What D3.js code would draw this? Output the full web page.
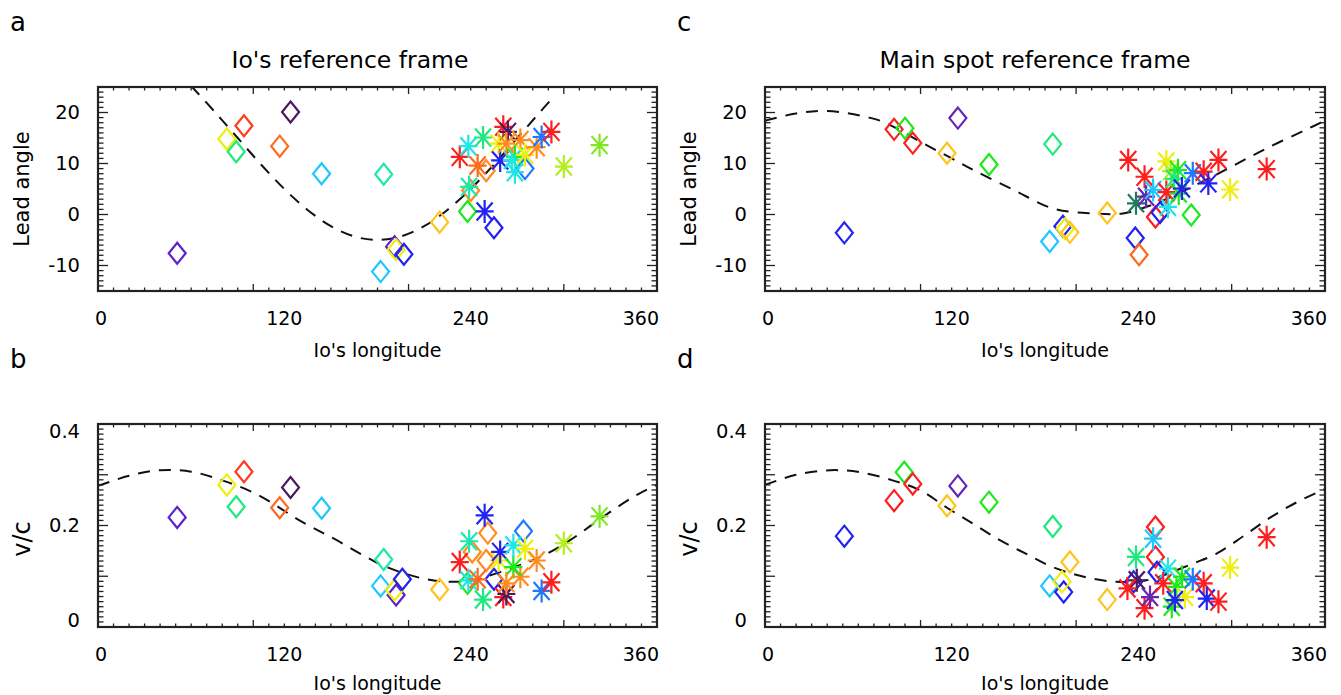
<!DOCTYPE html>
<html lang="en">
<head>
<meta charset="UTF-8">
<title>Io footprint lead angle and v/c</title>
<script src="https://d3js.org/d3.v7.min.js"></script>
<style>
  body { margin: 0; background: #fff; }
  svg { display: block; font-family: "DejaVu Sans", sans-serif; }
</style>
</head>
<body>
<svg width="1341" height="695"></svg>
<script>
// tick labels
const lonTicks = [0, 120, 240, 360];
const leadTicks = [-10, 0, 10, 20];
const vcTicks = [0, 0.2, 0.4];

// colour groups
const palette = {
  vio: "#5b22d2", dpu: "#4b1a62", pur: "#6a24b4", blu: "#2323f0", azu: "#1e78ff",
  sky: "#1ec8ff", cya: "#1ee6e6", aqu: "#1ee8b0", spr: "#1ee880", tea: "#1f7a5a",
  grn: "#1ee81e", chr: "#7ee81e", lim: "#b4ee1e", yel: "#eeee10", gol: "#ffc41e",
  ora: "#ff8c1e", ore: "#ff6a1e", rdo: "#ff3c1e", red: "#ff1e1e"
};

// panel a: Io's frame, lead angle  [longitude, lead, colour, symbol]
const ioLead = [
  [51, -7.6, "vio", "d"], [83, 14.8, "yel", "d"], [89, 12.3, "spr", "d"], [94, 17.4, "rdo", "d"],
  [117, 13.4, "ore", "d"], [124, 20.1, "dpu", "d"], [144, 8.0, "sky", "d"], [184, 7.9, "aqu", "d"],
  [182, -11.2, "sky", "d"], [191, -6.3, "vio", "d"], [192, -6.9, "yel", "d"], [197, -7.8, "blu", "d"],
  [220, -1.5, "gol", "d"], [238, 0.6, "grn", "d"], [255, -2.6, "blu", "d"], [240, 4.7, "ora", "d"],
  [250, 8.6, "ora", "d"], [275, 9.0, "azu", "d"],
  [249, 0.6, "blu", "s"], [239, 5.4, "aqu", "s"], [233, 11.3, "red", "s"], [238.5, 13.4, "cya", "s"],
  [248, 15.1, "spr", "s"], [244.5, 9.6, "ore", "s"], [261, 17.2, "red", "s"], [264, 16.2, "dpu", "s"],
  [272, 14.6, "ora", "s"], [258, 13.9, "yel", "s"], [259, 10.6, "blu", "s"], [268.5, 11.3, "grn", "s"],
  [268.5, 8.3, "cya", "s"], [266.5, 10.7, "cya", "s"], [275, 11.7, "yel", "s"], [282.5, 13.2, "ora", "s"],
  [285.7, 15.2, "azu", "s"], [292, 16.2, "red", "s"], [300, 9.4, "lim", "s"], [323, 13.6, "chr", "s"],
  [263, 13.9, "ora", "s"]
];

// panel b: Io's frame, v/c
const ioVc = [
  [51, 0.216, "vio", "d"], [83, 0.280, "yel", "d"], [89, 0.237, "spr", "d"], [94, 0.306, "rdo", "d"],
  [117, 0.235, "ore", "d"], [124, 0.275, "dpu", "d"], [144, 0.234, "sky", "d"], [184, 0.133, "aqu", "d"],
  [182, 0.081, "sky", "d"], [192, 0.063, "vio", "d"], [191, 0.073, "yel", "d"], [196, 0.094, "blu", "d"],
  [220, 0.074, "gol", "d"], [238, 0.086, "grn", "d"], [255, 0.094, "blu", "d"], [241, 0.148, "ora", "d"],
  [251, 0.185, "ora", "d"], [250, 0.131, "ora", "d"], [274, 0.189, "azu", "d"],
  [249, 0.220, "blu", "s"], [239, 0.169, "aqu", "s"], [233, 0.128, "red", "s"], [238.5, 0.092, "cya", "s"],
  [248, 0.054, "spr", "s"], [244.5, 0.094, "ore", "s"], [261, 0.059, "red", "s"], [263, 0.065, "dpu", "s"],
  [272, 0.099, "ora", "s"], [258, 0.131, "yel", "s"], [259, 0.148, "blu", "s"], [267.5, 0.118, "grn", "s"],
  [267.5, 0.161, "cya", "s"], [275, 0.154, "yel", "s"], [282.5, 0.131, "ora", "s"], [285.7, 0.071, "azu", "s"],
  [292, 0.088, "red", "s"], [300, 0.165, "lim", "s"], [323, 0.218, "chr", "s"], [263, 0.086, "ora", "s"]
];

// panel c: main spot frame, lead angle
const spotLead = [
  [51, -3.6, "blu", "d"], [83, 16.7, "red", "d"], [90, 16.9, "grn", "d"], [95, 14.0, "red", "d"],
  [117, 12.0, "gol", "d"], [124, 18.9, "pur", "d"], [144, 9.8, "grn", "d"], [185, 13.8, "spr", "d"],
  [183, -5.3, "sky", "d"], [191.5, -2.3, "blu", "d"], [193, -2.8, "yel", "d"], [196, -3.5, "gol", "d"],
  [220, 0.3, "gol", "d"], [238, -4.6, "blu", "d"], [240.5, -7.9, "ore", "d"], [251, -0.5, "red", "d"],
  [254, 0.4, "blu", "d"], [274, -0.1, "grn", "d"],
  [233.5, 10.7, "red", "s"], [244, 7.4, "red", "s"], [238.5, 2.2, "tea", "s"], [245, 3.5, "pur", "s"],
  [249.5, 4.8, "sky", "s"], [259, 1.5, "cya", "s"], [258, 4.4, "red", "s"], [258, 10.4, "yel", "s"],
  [261, 8.5, "lim", "s"], [265.5, 8.7, "grn", "s"], [263, 7.0, "spr", "s"], [266, 4.1, "grn", "s"],
  [268, 5.1, "blu", "s"], [275, 8.1, "azu", "s"], [282, 8.4, "red", "s"], [285, 6.1, "blu", "s"],
  [291.5, 10.7, "red", "s"], [299, 4.9, "yel", "s"], [322.5, 8.9, "red", "s"]
];

// panel d: main spot frame, v/c
const spotVc = [
  [51, 0.179, "blu", "d"], [83, 0.249, "red", "d"], [89.5, 0.305, "grn", "d"], [95, 0.282, "red", "d"],
  [117, 0.239, "gol", "d"], [124, 0.278, "pur", "d"], [144, 0.246, "grn", "d"], [185, 0.198, "spr", "d"],
  [183, 0.081, "sky", "d"], [192, 0.069, "blu", "d"], [191, 0.089, "yel", "d"], [196, 0.128, "gol", "d"],
  [220, 0.054, "gol", "d"], [237, 0.089, "blu", "d"], [251, 0.197, "red", "d"], [251, 0.138, "red", "d"],
  [252, 0.108, "blu", "d"],
  [249.5, 0.174, "sky", "s"], [238.5, 0.138, "spr", "s"], [239, 0.092, "dpu", "s"], [233, 0.076, "red", "s"],
  [244, 0.037, "red", "s"], [247.5, 0.059, "pur", "s"], [259, 0.115, "cya", "s"], [256, 0.086, "red", "s"],
  [261.5, 0.040, "grn", "s"], [264.5, 0.079, "grn", "s"], [270, 0.059, "yel", "s"], [263.5, 0.053, "blu", "s"],
  [268, 0.099, "grn", "s"], [275, 0.094, "azu", "s"], [282, 0.086, "red", "s"], [284, 0.056, "blu", "s"],
  [291.5, 0.050, "red", "s"], [299, 0.117, "yel", "s"], [322.5, 0.177, "red", "s"]
];

// dashed model curves
const ioLeadModel = [[60, 25.2], [75, 20.2], [90, 15.0], [105, 9.8], [120, 5.0], [135, 0.9], [150, -2.3],
  [165, -4.3], [180, -5.0], [195, -4.3], [210, -2.3], [225, 0.9], [240, 5.0], [255, 9.8], [270, 15.0],
  [285, 20.2], [292, 22.6]];
const ioVcModel = [[0, 0.278], [20, 0.298], [40, 0.309], [60, 0.306], [80, 0.289], [102, 0.262], [132, 0.206],
  [152, 0.174], [171, 0.141], [186, 0.118], [210, 0.095], [227, 0.089], [244, 0.093], [250, 0.099],
  [268, 0.118], [285, 0.138], [304, 0.171], [328, 0.223], [348, 0.262], [360, 0.280]];
const spotLeadModel = [[0, 18.4], [20, 19.8], [40, 20.3], [67, 19.0], [78, 17.9], [102, 13.9], [120, 11.0],
  [136, 8.4], [160, 4.8], [185, 1.2], [211, 0.2], [230, 0.2], [248, 1.8], [269, 4.6], [295, 8.6],
  [322, 12.9], [349, 16.8], [360, 18.4]];
const spotVcModel = [[0, 0.280], [20, 0.300], [42, 0.309], [61, 0.305], [83, 0.288], [100, 0.269], [117, 0.235],
  [134, 0.203], [151, 0.171], [168, 0.144], [185, 0.118], [205, 0.099], [226, 0.089], [245, 0.092],
  [258, 0.104], [275, 0.125], [290, 0.144], [308, 0.180], [325, 0.216], [342, 0.246], [355, 0.265], [360, 0.272]];

const svg = d3.select("svg");

const panels = [
  { id: "a", box: [98, 87, 657, 291], title: "Io's reference frame", titleX: 350, ylabel: "Lead angle",
    yDomain: [-15, 25], yTicks: leadTicks, yMajor: 10, yMinor: 1, data: ioLead, model: ioLeadModel },
  { id: "b", box: [98, 424, 657, 627], ylabel: "v/c",
    yDomain: [0, 0.4], yTicks: vcTicks, yMajor: 0.1, yMinor: 0.01, data: ioVc, model: ioVcModel },
  { id: "c", box: [765, 87, 1325, 291], title: "Main spot reference frame", titleX: 1035, ylabel: "Lead angle",
    yDomain: [-15, 25], yTicks: leadTicks, yMajor: 10, yMinor: 1, data: spotLead, model: spotLeadModel },
  { id: "d", box: [765, 424, 1325, 627], ylabel: "v/c",
    yDomain: [0, 0.4], yTicks: vcTicks, yMajor: 0.1, yMinor: 0.01, data: spotVc, model: spotVcModel }
];

function diamond(x, y) {
  return `M${x},${y - 10.5}L${x + 8.5},${y}L${x},${y + 10.5}L${x - 8.5},${y}Z`;
}
function asterisk(x, y) {
  return `M${x},${y - 11.5}V${y + 11.5}M${x - 9},${y}H${x + 9}` +
    `M${x - 8},${y - 9}L${x + 8},${y + 9}M${x - 8},${y + 9}L${x + 8},${y - 9}`;
}

panels.forEach(p => {
  const [x0, y0, x1, y1] = p.box;
  const x = d3.scaleLinear().domain([0, 360]).range([x0, x1]);
  const y = d3.scaleLinear().domain(p.yDomain).range([y1, y0]);
  const g = svg.append("g");

  // panel letter
  g.append("text").attr("x", x0 - 88).attr("y", y0 - 56)
    .attr("font-size", 26).text(p.id);

  if (p.title) {
    g.append("text").attr("x", p.titleX).attr("y", y0 - 19)
      .attr("text-anchor", "middle").attr("font-size", 23.5).text(p.title);
  }

  // clip for model curve and symbols
  g.append("clipPath").attr("id", "clip-" + p.id)
    .append("rect").attr("x", x0).attr("y", y0).attr("width", x1 - x0).attr("height", y1 - y0);

  const plot = g.append("g").attr("clip-path", `url(#clip-${p.id})`);

  plot.append("path")
    .datum(p.model)
    .attr("d", d3.line().x(d => x(d[0])).y(d => y(d[1])).curve(d3.curveCatmullRom))
    .attr("fill", "none").attr("stroke", "#111").attr("stroke-width", 2)
    .attr("stroke-dasharray", "12,9");

  plot.selectAll("path.sym")
    .data(p.data)
    .join("path")
    .attr("class", "sym")
    .attr("d", d => d[3] === "d" ? diamond(x(d[0]), y(d[1])) : asterisk(x(d[0]), y(d[1])))
    .attr("fill", "none")
    .attr("stroke", d => palette[d[2]])
    .attr("stroke-width", 2.2);

  // ticks: x minor every 10, major every 100 ; y per panel
  const ticks = g.append("g").attr("stroke", "#222").attr("stroke-width", 1.3);
  d3.range(0, 361, 10).forEach(v => {
    const len = v % 100 === 0 ? 7 : 3.5;
    ticks.append("line").attr("x1", x(v)).attr("x2", x(v)).attr("y1", y1).attr("y2", y1 - len);
    ticks.append("line").attr("x1", x(v)).attr("x2", x(v)).attr("y1", y0).attr("y2", y0 + len);
  });
  const nMinor = Math.round((p.yDomain[1] - p.yDomain[0]) / p.yMinor);
  d3.range(0, nMinor + 1).forEach(i => {
    const v = p.yDomain[0] + i * p.yMinor;
    const isMajor = Math.abs(v / p.yMajor - Math.round(v / p.yMajor)) < 1e-6;
    const len = isMajor ? 10 : 5.5;
    ticks.append("line").attr("x1", x0).attr("x2", x0 + len).attr("y1", y(v)).attr("y2", y(v));
    ticks.append("line").attr("x1", x1).attr("x2", x1 - len).attr("y1", y(v)).attr("y2", y(v));
  });

  // frame
  g.append("rect").attr("x", x0).attr("y", y0).attr("width", x1 - x0).attr("height", y1 - y0)
    .attr("fill", "none").attr("stroke", "#222").attr("stroke-width", 2.2);

  // x tick labels
  g.selectAll("text.xt").data(lonTicks).join("text")
    .attr("class", "xt")
    .attr("x", (d, i) => i === 0 ? x(d) - 3 : i === lonTicks.length - 1 ? x(d) + 2 : x(d))
    .attr("y", y1 + 27 + 0.35 * 19)
    .attr("text-anchor", (d, i) => i === 0 ? "start" : i === lonTicks.length - 1 ? "end" : "middle")
    .attr("font-size", 19)
    .text(d => d);

  // y tick labels
  g.selectAll("text.yt").data(p.yTicks).join("text")
    .attr("class", "yt")
    .attr("x", x0 - 18)
    .attr("y", d => Math.max(y0 + 7, Math.min(y1 - 7, y(d))))
    .attr("dy", "0.35em")
    .attr("text-anchor", "end")
    .attr("font-size", 19.5)
    .text(d => d);

  // axis titles (kept inside the picture at the bottom row)
  g.append("text").attr("x", (x0 + x1) / 2).attr("y", Math.min(y1 + 65.5, 689.5))
    .attr("text-anchor", "middle").attr("font-size", 19).text("Io's longitude");

  const ylY = p.ylabel === "v/c" ? y0 + 115 : (y0 + y1) / 2;
  g.append("text")
    .attr("transform", `translate(${x0 - 76},${ylY}) rotate(-90)`)
    .attr("dy", "0.35em")
    .attr("text-anchor", "middle")
    .attr("font-size", p.ylabel === "v/c" ? 24 : 21)
    .text(p.ylabel);
});
</script>
</body>
</html>
